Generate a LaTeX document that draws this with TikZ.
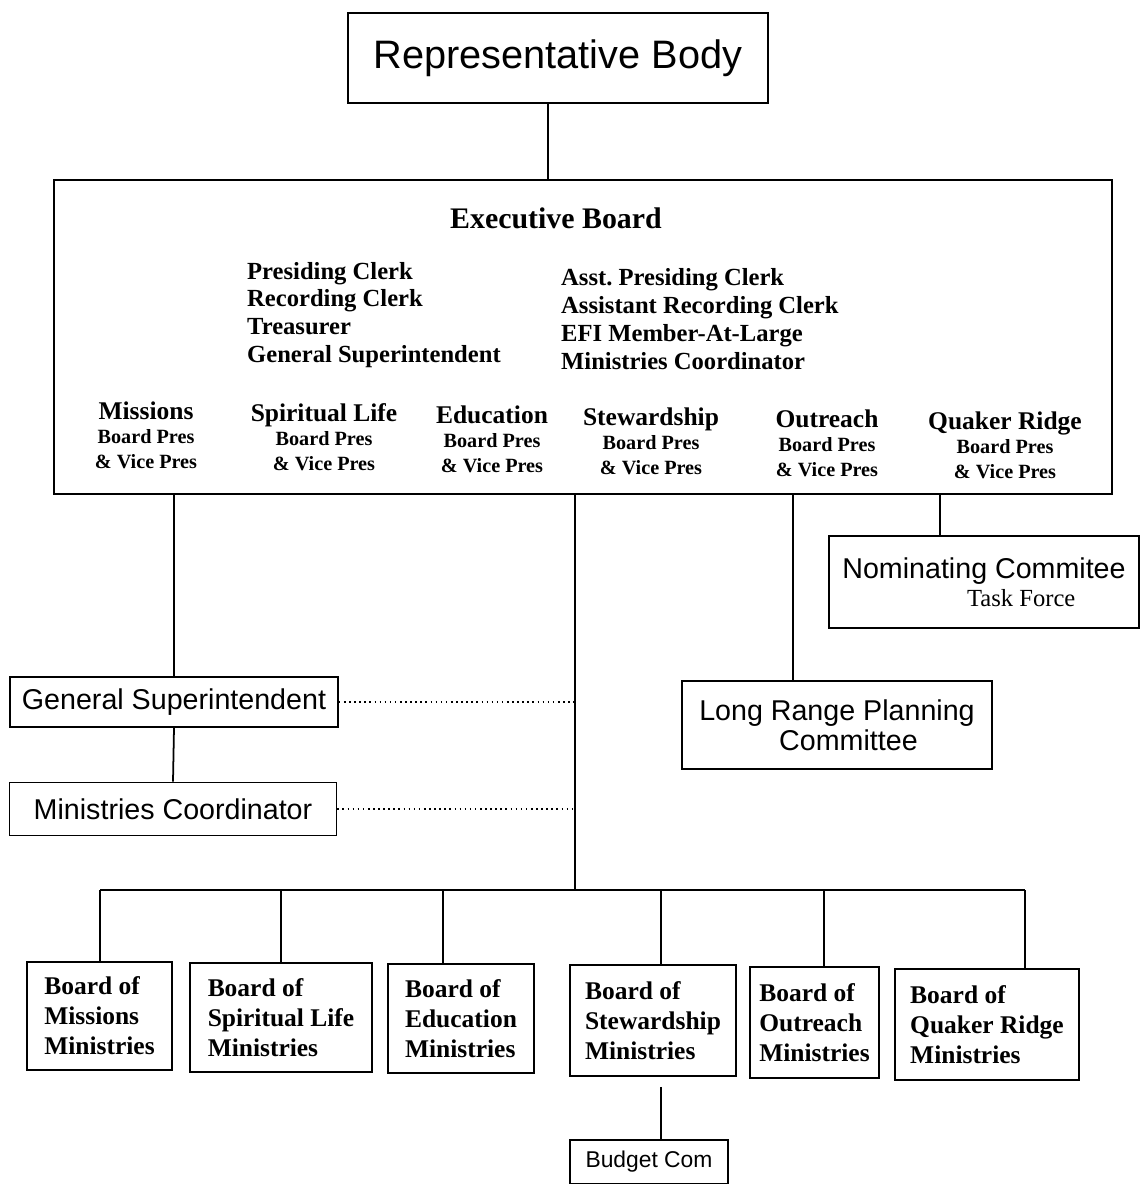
\documentclass[tikz,border=0pt]{standalone}
\usepackage{fontspec}
\setmainfont{Liberation Serif}
\setsansfont{Liberation Sans}
\usetikzlibrary{positioning,calc}

\begin{document}
\begin{tikzpicture}[x=0.02cm, y=-0.02cm,
        orgbox/.style={rectangle, draw, line width=1pt, inner sep=0pt},
        sanstext/.style={font=\sffamily\fontsize{16.3}{17}\selectfont, align=center},
        boardbox/.style={orgbox, align=left,
                         font=\bfseries\fontsize{14.5}{17}\selectfont},
        boardcol/.style={align=center, font=\bfseries\fontsize{11.5}{14}\selectfont},
        link/.style={line width=1pt},
        dotlink/.style={line width=0.9pt, dotted}
    ]
    \useasboundingbox (0,0) rectangle (1143,1184);

    %% ── Representative Body ─────────────────────────────────────────────
    \node[orgbox, minimum width=8.4cm, minimum height=1.8cm,
          font=\sffamily\fontsize{22.6}{26}\selectfont] (rep) at (558,58)
        {Representative Body};

    %% ── Executive Board ─────────────────────────────────────────────────
    \node[orgbox, minimum width=21.16cm, minimum height=6.28cm] (exec) at (583,337) {};
    \node[font=\bfseries\fontsize{17}{20}\selectfont] (ebtitle) at (556,218)
        {Executive Board};
    \node[anchor=west, align=left, font=\bfseries\fontsize{14}{15.9}\selectfont]
        (officers) at (241,315)
        {Presiding Clerk\\Recording Clerk\\Treasurer\\General Superintendent};
    \node[anchor=west, align=left, font=\bfseries\fontsize{14}{15.9}\selectfont]
        (assistants) at (555,319)
        {Asst.\ Presiding Clerk\\Assistant Recording Clerk\\EFI Member-At-Large\\Ministries Coordinator};

    \foreach \n/\x/\y/\t in {cmis/146/435/Missions, cspi/324/437/Spiritual Life,
                             cedu/492/439/Education, cstw/651/441/Stewardship,
                             cout/827/443/Outreach, cqua/1005/445/Quaker Ridge}
        \node[boardcol] (\n) at (\x,\y)
            {{\fontsize{14.5}{17}\selectfont \t}\\Board Pres\\\& Vice Pres};

    %% ── Staff and committees ────────────────────────────────────────────
    \node[orgbox, sanstext, minimum width=6.56cm, minimum height=1.0cm] (gs) at (174,702)
        {General Superintendent};
    \node[orgbox, sanstext, minimum width=6.54cm, minimum height=1.06cm] (mc) at (173,809)
        {Ministries Coordinator};
    \node[orgbox, sanstext, minimum width=6.2cm, minimum height=1.84cm] (nom) at (984,582)
        {Nominating Commitee\\[-1pt]\hspace*{2.6em}{\rmfamily\fontsize{14}{15}\selectfont Task Force}};
    \node[orgbox, sanstext, minimum width=6.2cm, minimum height=1.76cm] (lrp) at (837,725)
        {Long Range Planning\\\hspace*{0.8em}Committee};

    %% ── Ministry boards ─────────────────────────────────────────────────
    \node[boardbox, minimum width=2.9cm,  minimum height=2.16cm] (bmis) at (99.5,1016)
        {Board of\\Missions\\Ministries};
    \node[boardbox, minimum width=3.64cm, minimum height=2.18cm] (bspi) at (281,1017.5)
        {Board of\\Spiritual Life\\Ministries};
    \node[boardbox, minimum width=2.92cm, minimum height=2.18cm] (bedu) at (461,1018.5)
        {Board of\\Education\\Ministries};
    \node[boardbox, minimum width=3.32cm, minimum height=2.22cm] (bstw) at (653,1020.5)
        {Board of\\Stewardship\\Ministries};
    \node[boardbox, minimum width=2.58cm, minimum height=2.22cm] (bout) at (814.5,1022.5)
        {Board of\\Outreach\\Ministries};
    \node[boardbox, minimum width=3.68cm, minimum height=2.22cm] (bqua) at (987,1024.5)
        {Board of\\Quaker Ridge\\Ministries};
    \node[orgbox, minimum width=3.16cm, minimum height=0.88cm,
          font=\sffamily\fontsize{13}{15}\selectfont] (budget) at (649,1162)
        {Budget Com};

    %% ── Connectors ──────────────────────────────────────────────────────
    \coordinate (trunk) at (575,890);
    \coordinate (barL)  at (100,890);
    \coordinate (barR)  at (1025,890);

    \draw[link] (rep.south -| 548,0) -- (exec.north -| 548,0);
    \draw[link] (exec.south -| gs.north) -- (gs.north);
    \draw[link] (gs.south) -- (mc.north);
    \draw[link] (exec.south -| trunk) -- (trunk);
    \draw[link] (exec.south -| 793,0) -- (lrp.north -| 793,0);
    \draw[link] (exec.south -| 940,0) -- (nom.north -| 940,0);

    \draw[dotlink] (gs.east) -- (gs.east -| trunk);
    \draw[dotlink] (mc.east) -- (mc.east -| trunk);

    \draw[link] (barL) -- (barR);
    \foreach \b/\x in {bmis/100, bspi/281, bedu/443, bstw/661, bout/824, bqua/1025}
        \draw[link] (\x,890) -- (\b.north -| \x,0);
    \draw[link] ($(bstw.south -| 661,0)+(0,10)$) -- (budget.north -| 661,0);

\end{tikzpicture}
\end{document}
